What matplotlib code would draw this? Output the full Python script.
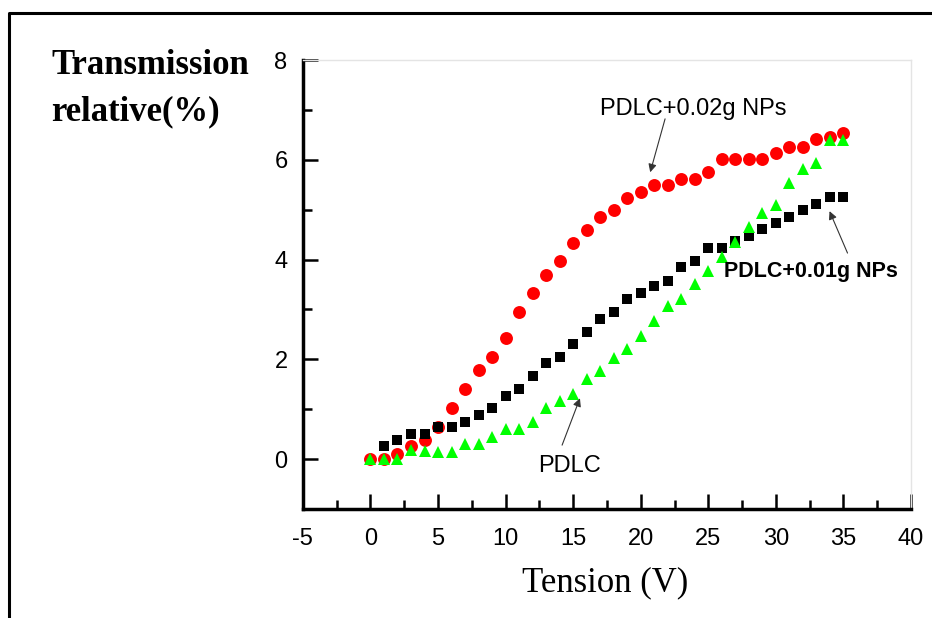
import matplotlib.pyplot as plt
from matplotlib.lines import Line2D

# data (tension in V, relative transmission in %)
volts = list(range(0, 36))
volts_001 = list(range(1, 36))

pdlc_002 = [0.0, 0.0, 0.11, 0.26, 0.38, 0.65, 1.02, 1.40, 1.78, 2.04,
            2.43, 2.94, 3.32, 3.70, 3.97, 4.34, 4.60, 4.86, 4.99, 5.24,
            5.36, 5.50, 5.49, 5.62, 5.62, 5.76, 6.01, 6.01, 6.01, 6.01,
            6.14, 6.26, 6.26, 6.42, 6.45, 6.54]

pdlc_001 = [0.26, 0.38, 0.51, 0.51, 0.64, 0.65, 0.75, 0.88, 1.02,
            1.27, 1.41, 1.66, 1.92, 2.04, 2.30, 2.55, 2.81, 2.94, 3.20,
            3.32, 3.47, 3.57, 3.85, 3.97, 4.23, 4.23, 4.37, 4.47, 4.61,
            4.74, 4.86, 4.99, 5.12, 5.25, 5.25]

pdlc = [0.0, 0.0, 0.0, 0.18, 0.17, 0.15, 0.15, 0.31, 0.31, 0.45,
        0.61, 0.61, 0.74, 1.02, 1.17, 1.31, 1.60, 1.76, 2.02, 2.21,
        2.46, 2.77, 3.07, 3.20, 3.51, 3.77, 4.06, 4.35, 4.65, 4.94,
        5.09, 5.54, 5.81, 5.94, 6.39, 6.39]

xticks = [-5, 0, 5, 10, 15, 20, 25, 30, 35, 40]
yticks = [0, 2, 4, 6, 8]

sans = ['Liberation Sans', 'DejaVu Sans']
serif = ['Liberation Serif', 'DejaVu Serif']

fig = plt.figure(figsize=(9.32, 6.18), dpi=100)
ax = fig.add_axes([0.325, 0.1764, 0.6525, 0.7265])

ax.plot(volts, pdlc_002, 'o', color='#ff0000', ms=9.3, mew=0, zorder=3)
ax.plot(volts_001, pdlc_001, 's', color='black', ms=7.5, mew=0, zorder=4)
ax.plot(volts, pdlc, '^', color='#00ff00', ms=9.3, mew=0, zorder=5)

ax.set_xlim(-5, 40)
ax.set_ylim(-1, 8)
ax.set_xticks(xticks)
ax.set_yticks(yticks)
ax.set_xticks([-2.5 + 5 * i for i in range(9)], minor=True)
ax.set_yticks([-1, 1, 3, 5, 7], minor=True)
ax.set_xticklabels([str(t) for t in xticks], family=sans, fontsize=17)
ax.set_yticklabels([str(t) for t in yticks], family=sans, fontsize=17)
ax.tick_params(axis='both', which='major', direction='in', length=11, width=1.8)
ax.tick_params(axis='both', which='minor', direction='in', length=6.5, width=1.8)
ax.tick_params(axis='x', pad=14)
ax.tick_params(axis='y', pad=11)

for s in ['left', 'bottom']:
    ax.spines[s].set_linewidth(2.5)
for s in ['top', 'right']:
    ax.spines[s].set_color('#e4e4e4')
    ax.spines[s].set_linewidth(1)

# annotations
ax.text(23.85, 7.02, 'PDLC+0.02g NPs', family=sans, fontsize=17,
        ha='center', va='center')
ax.annotate('', xy=(20.7, 5.75), xytext=(21.8, 6.82),
            arrowprops=dict(arrowstyle='-|>', color='#333333', lw=0.8,
                            mutation_scale=12, shrinkA=0, shrinkB=0))

ax.text(32.57, 3.77, 'PDLC+0.01g NPs', family=sans, fontsize=15.5,
        fontweight='bold', ha='center', va='center', zorder=6)
ax.annotate('', xy=(33.97, 4.97), xytext=(35.3, 4.13),
            arrowprops=dict(arrowstyle='-|>', color='#333333', lw=0.8,
                            mutation_scale=12, shrinkA=0, shrinkB=0))

ax.text(14.7, -0.13, 'PDLC', family=sans, fontsize=17, ha='center', va='center')
ax.annotate('', xy=(15.5, 1.22), xytext=(14.18, 0.28),
            arrowprops=dict(arrowstyle='-|>', color='#333333', lw=0.8,
                            mutation_scale=12, shrinkA=0, shrinkB=0))

# axis titles
fig.text(51 / 932, 1 - 74 / 618, 'Transmission', family=serif, fontsize=25,
         fontweight='bold', ha='left', va='baseline')
fig.text(51 / 932, 1 - 120 / 618, 'relative(%)', family=serif, fontsize=25,
         fontweight='bold', ha='left', va='baseline')
fig.text(605 / 932, 1 - 591 / 618, 'Tension (V)', family=serif, fontsize=25,
         ha='center', va='baseline')

# outer frame (only left and top edges are visible)
fig.add_artist(Line2D([8.5 / 932, 8.5 / 932, 1], [0, 1 - 12.5 / 618, 1 - 12.5 / 618],
                      transform=fig.transFigure, color='black', lw=2.2))

fig.savefig('out.png', dpi=100)
